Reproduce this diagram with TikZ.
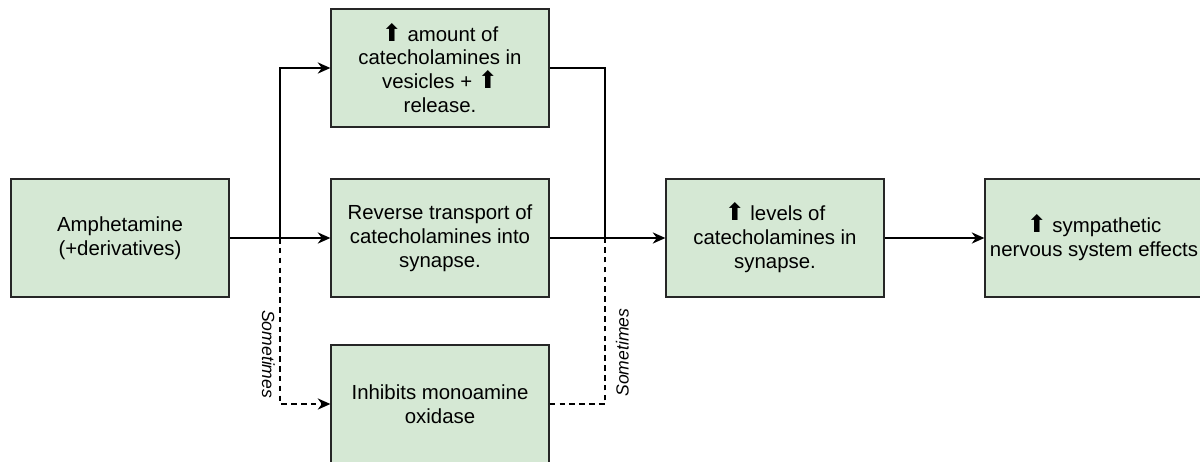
\documentclass[tikz,border=0pt]{standalone}
\usepackage{fontspec}
\setmainfont{Liberation Sans}
\newfontfamily\symfont{DejaVu Sans}
\usepackage{xcolor}
\usetikzlibrary{arrows.meta}
\definecolor{boxfill}{HTML}{D5E8D4}
\definecolor{boxline}{HTML}{262626}
\newcommand{\upar}{{\symfont\fontsize{17}{17}\selectfont\char"2B06}}

\begin{document}
\begin{tikzpicture}[x=0.025cm, y=-0.025cm,
    stepbox/.style={draw=boxline, fill=boxfill, line width=0.9pt,
      minimum width=5.45cm, minimum height=2.95cm, align=center,
      font=\fontsize{14.5}{17}\selectfont},
    link/.style={line width=0.8pt, -{Stealth[length=9pt, width=8pt]}},
    maybe/.style={link, dash pattern=on 4pt off 3pt},
    note/.style={font=\fontsize{12.5}{14}\selectfont\itshape}]
      \useasboundingbox (0,0) rectangle (1200,461);%

      % boxes
      \node[stepbox] (amph) at (120,238) {Amphetamine\\(+derivatives)};
      \node[stepbox] (vesic) at (440,68) {\upar{} amount of\\catecholamines in\\vesicles + \upar\\release.};
      \node[stepbox] (revtr) at (440,238) {Reverse transport of\\catecholamines into\\synapse.};
      \node[stepbox] (mao) at (440,404) {Inhibits monoamine\\oxidase};
      \node[stepbox] (levels) at (775,238) {\upar{} levels of\\catecholamines in\\synapse.};
      \node[stepbox] (sns) at (1094,238) {\upar{} sympathetic\\nervous system effects};

      \coordinate (split) at (280,238);
      \coordinate (merge) at (605,238);

      % connectors
      \draw[link] (amph) -- (revtr);
      \draw[link] (split) |- (vesic);
      \draw[maybe] (split) |- node[pos=0.35, note, rotate=-90, below] {Sometimes} (mao);
      \draw[line width=0.8pt] (vesic.east) -| (merge);
      \draw[line width=0.8pt, dash pattern=on 4pt off 3pt] (mao.east) -| node[pos=0.655, note, rotate=90, below, yshift=-4pt] {Sometimes} (merge);
      \draw[link] (revtr) -- (levels);
      \draw[link] (levels) -- (sns);
    \end{tikzpicture}
\end{document}
